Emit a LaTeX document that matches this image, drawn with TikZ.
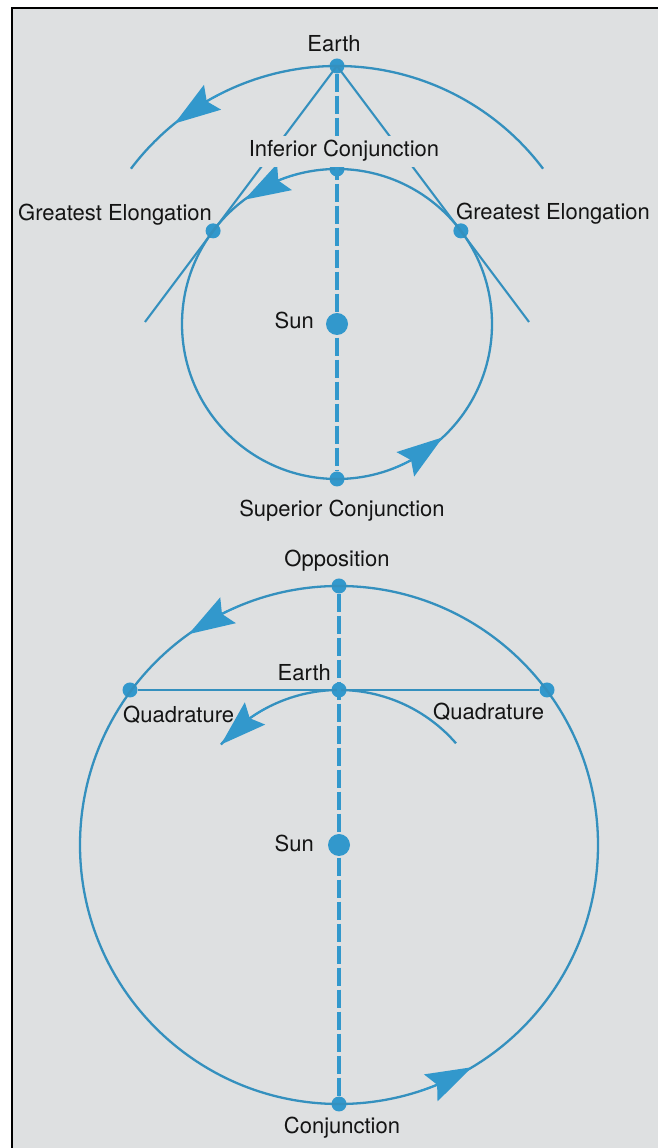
\documentclass[tikz,border=0pt]{standalone}
\usepackage{fontspec}
\setmainfont{TeX Gyre Heros}
\usetikzlibrary{arrows.meta,bending}
\definecolor{bg}{RGB}{222,224,225}
\definecolor{orb}{RGB}{50,152,204}
\definecolor{orbline}{RGB}{52,144,190}
\definecolor{ink}{RGB}{20,20,20}
\begin{document}
\begin{tikzpicture}[x=1pt,y=1pt,
  orbit/.style={draw=orbline, line width=2.3pt},
  sightline/.style={draw=orbline, line width=2.1pt},
  axisline/.style={draw=orb, line width=3.2pt, dash pattern=on 18pt off 4pt},
  dot/.style={circle, fill=orb, inner sep=0pt, minimum size=15pt},
  sundot/.style={circle, fill=orb, inner sep=0pt, minimum size=22pt},
  lbl/.style={inner sep=0pt, text=ink, font=\fontsize{22}{26}\selectfont},
  motion/.style={draw=orb, line width=1.6pt, -{Stealth[length=46pt,width=30pt,inset=7pt,flex]}},
]
\useasboundingbox (0,0) rectangle (658,1148);
\fill[white] (0,0) rectangle (658,1148);
\fill[bg] (12,0) rectangle (658,1140);
\draw[black, line width=2pt] (12,0) -- (12,1140) -- (658,1140);

% ---------- top diagram ----------
\coordinate (sunA) at (337,824);
\node[dot] (earthA) at (337,1082) {};
\node[dot] (infA) at (337,979) {};
\node[dot] (supA) at (337,669) {};
\node[dot] (geL) at ([shift={(143.07:155pt)}]sunA) {};
\node[dot] (geR) at ([shift={(36.93:155pt)}]sunA) {};
\coordinate (tanL) at (145,826);
\coordinate (tanR) at (529,826);

\draw[orbit] (sunA) circle[radius=155pt];
\draw[orbit] ([shift={(37:258pt)}]sunA) arc[start angle=37,end angle=143,radius=258pt];
\draw[sightline] (earthA.center) -- (tanL);
\draw[sightline] (earthA.center) -- (tanR);
\draw[axisline] (earthA) -- (supA);
\draw[motion] ([shift={(116:258pt)}]sunA) arc[start angle=116,end angle=129,radius=258pt];
\draw[motion] ([shift={(105:155pt)}]sunA) arc[start angle=105,end angle=126.7,radius=155pt];
\draw[motion] ([shift={(-69:155pt)}]sunA) arc[start angle=-69,end angle=-47,radius=155pt];
\node[sundot] (sunAdot) at (sunA) {};

\node[lbl,anchor=base] (lEarthA) at (334,1096) {Earth};
\node[lbl,anchor=base,fill=bg,inner xsep=3pt,inner ysep=5pt] (lInf) at (344,991) {Inferior Conjunction};
\node[lbl,anchor=base west] (lGEL) at (18,927) {Greatest Elongation};
\node[lbl,anchor=base west] (lGER) at (456,928) {Greatest Elongation};
\node[lbl,anchor=base east] (lSunA) at (314,819) {Sun};
\node[lbl,anchor=base] (lSup) at (342,631) {Superior Conjunction};

% ---------- bottom diagram ----------
\coordinate (sunB) at (339,303);
\node[dot] (oppB) at (339,562) {};
\node[dot] (earthB) at (339,458) {};
\node[dot] (conjB) at (339,44) {};
\node[dot] (quadL) at (130,458) {};
\node[dot] (quadR) at (547,458) {};

\draw[orbit] (sunB) circle[radius=259pt];
\draw[orbit] ([shift={(41:155pt)}]sunB) arc[start angle=41,end angle=139.6,radius=155pt];
\draw[sightline] (quadL) -- (quadR);
\draw[axisline] (oppB) -- (conjB);
\draw[motion] ([shift={(113:259pt)}]sunB) arc[start angle=113,end angle=125.5,radius=259pt];
\draw[motion] ([shift={(-72:259pt)}]sunB) arc[start angle=-72,end angle=-59.1,radius=259pt];
\draw[motion] ([shift={(118:155pt)}]sunB) arc[start angle=118,end angle=139.6,radius=155pt];
\node[sundot] (sunBdot) at (sunB) {};

\node[lbl,anchor=base] (lOpp) at (337,581) {Opposition};
\node[lbl,anchor=base east] (lEarthB) at (331,467) {Earth};
\node[lbl,anchor=base west] (lQL) at (123,425) {Quadrature};
\node[lbl,anchor=base west] (lQR) at (433,428) {Quadrature};
\node[lbl,anchor=base east] (lSunB) at (314,296) {Sun};
\node[lbl,anchor=base] (lConj) at (342,14) {Conjunction};
\end{tikzpicture}
\end{document}
